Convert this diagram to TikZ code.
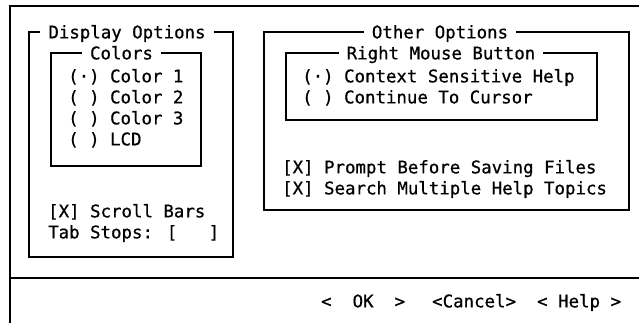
\documentclass[tikz,border=0pt]{standalone}
\usepackage{fontspec}
\newfontfamily\dlgfont[FakeBold=0.7]{DejaVu Sans Mono}
\begin{document}
\begin{tikzpicture}[x=1pt,y=-1pt,
  frame/.style={line width=1.7pt},
  txt/.style={font=\dlgfont\fontsize{17.4}{20}\selectfont, inner sep=0pt,
    text height=12.7pt, text depth=0pt, anchor=west},
  boxtitle/.style={txt, anchor=center, fill=white, inner xsep=8pt}]
\useasboundingbox (0,0) rectangle (639,322);

% dialog frame and button strip
\draw[frame] (641,6) -| (10,324);
\draw[frame] (10,278) -- (641,278);

% Display Options group
\draw[frame] (29,32) rectangle (233,257);
\node[boxtitle] (disptitle) at (127,32) {Display Options};
\draw[frame] (51,53) rectangle (201,166);
\node[boxtitle] (colortitle) at (121.5,53) {Colors};
\node[txt] (c1) at (68,76) {(·) Color 1};
\node[txt] (c2) at (68,97) {( ) Color 2};
\node[txt] (c3) at (68,118) {( ) Color 3};
\node[txt] (lcd) at (68,139) {( ) LCD};
\node[txt] (scroll) at (48,211) {[X] Scroll Bars};
\node[txt] (tabs) at (48,232) {Tab Stops: [~~~]};

% Other Options group
\draw[frame] (264,32) rectangle (629,210);
\node[boxtitle] (othertitle) at (440,32) {Other Options};
\draw[frame] (286,53) rectangle (597,120);
\node[boxtitle] (rmbtitle) at (441,53) {Right Mouse Button};
\node[txt] (ctx) at (302,76) {(·) Context Sensitive Help};
\node[txt] (cont) at (302,97) {( ) Continue To Cursor};
\node[txt] (prompt) at (282,167) {[X] Prompt Before Saving Files};
\node[txt] (search) at (282,188) {[X] Search Multiple Help Topics};

% buttons
\node[txt] (ok) at (321,301) {<~~OK~~>};
\node[txt] (cancel) at (432,301) {<Cancel>};
\node[txt] (help) at (537,301) {<~Help~>};
\end{tikzpicture}
\end{document}
